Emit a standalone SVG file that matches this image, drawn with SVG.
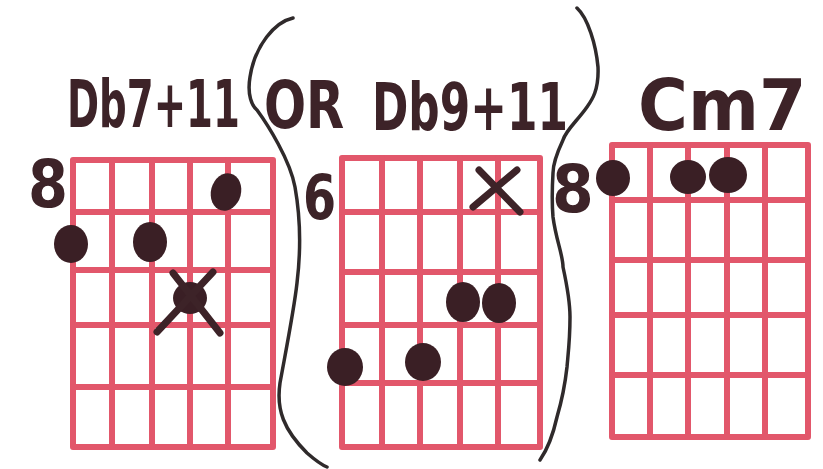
<svg xmlns="http://www.w3.org/2000/svg" width="823" height="469" viewBox="0 0 823 469">
<style>
.grid{fill:none;stroke:#e2576b;stroke-width:6;stroke-linecap:round;stroke-linejoin:round}
.ink{fill:#3a1f25}
.txt{font-family:"DejaVu Sans","Liberation Sans",sans-serif;font-weight:bold;fill:#3d2328}
.paren{fill:none;stroke:#2f2a2b;stroke-width:3.5;stroke-linecap:round}
.x{stroke:#3d2328;stroke-width:7;stroke-linecap:round}
</style>
<rect width="823" height="469" fill="#ffffff"/>

<g id="chord-db7-11">
  <text class="txt" transform="translate(67 127) scale(0.586 1)" x="0" y="0" font-size="66" textLength="295" lengthAdjust="spacingAndGlyphs">Db7+11</text>
  <text class="txt" transform="translate(28 207) scale(0.87 1)" x="0" y="0" font-size="66" textLength="46" lengthAdjust="spacingAndGlyphs">8</text>
  <rect class="grid" x="73" y="160" width="200" height="287"/>
  <path class="grid" d="M112 160V447M152 160V447M190 160V447M228 160V447M73 212H273M73 270H273M73 325H273M73 387H273"/>
  <ellipse class="ink" cx="226" cy="192" rx="15" ry="19" transform="rotate(15 226 192)"/>
  <ellipse class="ink" cx="71" cy="244" rx="17" ry="19"/>
  <ellipse class="ink" cx="150" cy="242" rx="17" ry="20"/>
  <ellipse class="ink" cx="190" cy="298" rx="17" ry="16"/>
  <path class="x" d="M173 273L220 333M213 272L157 332"/>
</g>

<g id="chord-db9-11">
  <text class="txt" transform="translate(264 128) scale(0.75 1)" x="0" y="0" font-size="66" textLength="107" lengthAdjust="spacingAndGlyphs">OR</text>
  <text class="txt" transform="translate(372 130) scale(0.664 1)" x="0" y="0" font-size="66" textLength="295" lengthAdjust="spacingAndGlyphs">Db9+11</text>
  <text class="txt" transform="translate(303 219) scale(0.77 1)" x="0" y="0" font-size="62" textLength="43" lengthAdjust="spacingAndGlyphs">6</text>
  <rect class="grid" x="342" y="158" width="198" height="289"/>
  <path class="grid" d="M382 158V447M420 158V447M460 158V447M498 158V447M342 212H540M342 272H540M342 325H540M342 383H540"/>
  <path class="x" d="M479 170L520 212M517 170L473 207"/>
  <ellipse class="ink" cx="463" cy="302" rx="17" ry="20"/>
  <ellipse class="ink" cx="499" cy="303" rx="17" ry="20"/>
  <ellipse class="ink" cx="345" cy="367" rx="18" ry="19"/>
  <ellipse class="ink" cx="423" cy="362" rx="18" ry="19"/>
</g>

<g id="chord-cm7">
  <text class="txt" transform="translate(638 130) scale(0.94 1)" x="0" y="0" font-size="72" textLength="179" lengthAdjust="spacingAndGlyphs">Cm7</text>
  <text class="txt" transform="translate(552 212) scale(0.87 1)" x="0" y="0" font-size="66" textLength="48" lengthAdjust="spacingAndGlyphs">8</text>
  <rect class="grid" x="612" y="145" width="196" height="292"/>
  <path class="grid" d="M650 145V437M688 145V437M727 145V437M765 145V437M612 200H808M612 260H808M612 315H808M612 375H808"/>
  <ellipse class="ink" cx="613" cy="178" rx="17" ry="18"/>
  <ellipse class="ink" cx="688" cy="177" rx="18" ry="17"/>
  <ellipse class="ink" cx="728" cy="175" rx="19" ry="18"/>
</g>

<g id="connectors">
  <path class="paren" d="M293 18C275 22 255 45 250 77C247 95 252 106 257 110C268 125 290 160 295 187C300 215 301 250 297 283C294 310 286 350 280 383C276 410 284 430 307 453C315 460 322 465 327 467"/>
  <path class="paren" d="M577 8C588 18 596 45 598 67C599 90 592 100 587 107C578 120 566 130 563 140C556 155 553 165 553 173C552 190 552 205 553 217C556 240 563 255 563 267C568 290 570 305 570 317C570 340 568 355 567 367C565 385 562 400 557 417C553 435 547 450 540 460"/>
</g>
</svg>
